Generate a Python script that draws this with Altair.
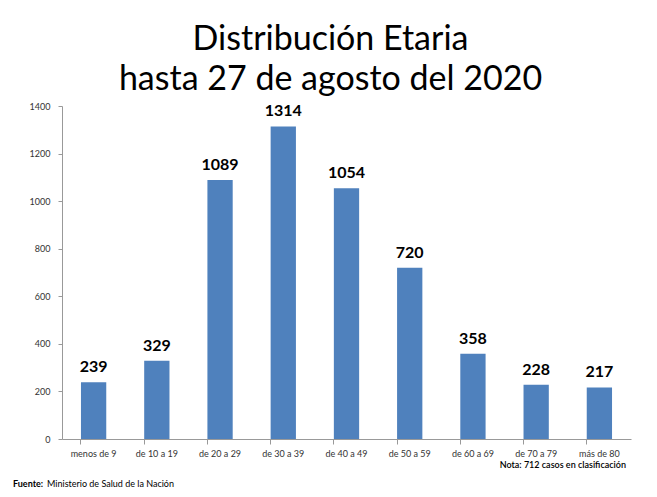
import altair as alt
import pandas as pd

categories = ["menos de 9", "de 10 a 19", "de 20 a 29", "de 30 a 39", "de 40 a 49",
              "de 50 a 59", "de 60 a 69", "de 70 a 79", "más de 80"]
values = [239, 329, 1089, 1314, 1054, 720, 358, 228, 217]
y_ticks = [0, 200, 400, 600, 800, 1000, 1200, 1400]

df = pd.DataFrame({"grupo": categories, "casos": values})

x = alt.X("grupo:N", sort=categories, title=None,
          scale=alt.Scale(paddingInner=0.6, paddingOuter=0.3),
          axis=alt.Axis(labelAngle=0, labelFontSize=9, labelColor="#333333",
                        labelFont="Lato", domainColor="#999999", tickColor="#999999",
                        tickSize=5, bandPosition=0, labelPadding=5))
y = alt.Y("casos:Q", title=None,
          scale=alt.Scale(domain=[0, 1400]),
          axis=alt.Axis(values=y_ticks, format="d", grid=False, labelFontSize=9,
                        labelColor="#333333", labelFont="Lato", domainColor="#999999",
                        tickColor="#999999", tickSize=4, labelPadding=8))

base = alt.Chart(df)
bars = base.mark_bar(color="#4F81BD").encode(x=x, y=y)
labels = base.mark_text(fontSize=16, fontWeight="bold", font="Lato", color="black",
                        baseline="bottom", dy=-7).encode(x=x, y=y, text="casos:Q")

nota = alt.Chart(pd.DataFrame({"t": ["Nota: 712 casos en clasificación"]})).mark_text(
    align="right", baseline="middle", fontSize=9, font="Lato", fontWeight=600, color="black"
).encode(x=alt.value(564), y=alt.value(359), text="t:N")

fuente_b = alt.Chart(pd.DataFrame({"t": ["Fuente:"]})).mark_text(
    align="left", baseline="middle", fontSize=9, font="Lato", fontWeight="bold", color="black"
).encode(x=alt.value(-49), y=alt.value(378), text="t:N")
fuente = alt.Chart(pd.DataFrame({"t": ["Ministerio de Salud de la Nación"]})).mark_text(
    align="left", baseline="middle", fontSize=9, font="Lato", color="black"
).encode(x=alt.value(-15), y=alt.value(378), text="t:N")

chart = alt.layer(bars, labels, nota, fuente_b, fuente).properties(
    width=569, height=333,
    padding={"left": 54, "top": 98, "right": 18, "bottom": 50},
    autosize=alt.AutoSizeParams(type="none"),
    title=alt.TitleParams(["Distribución Etaria", "hasta 27 de agosto del 2020"],
                          fontSize=34, font="Lato", fontWeight="normal", color="black",
                          lineHeight=40, anchor="middle", dx=-16, offset=5),
).configure_view(stroke=None)

chart.save("out.html", embed_options={"renderer": "svg", "actions": False})
